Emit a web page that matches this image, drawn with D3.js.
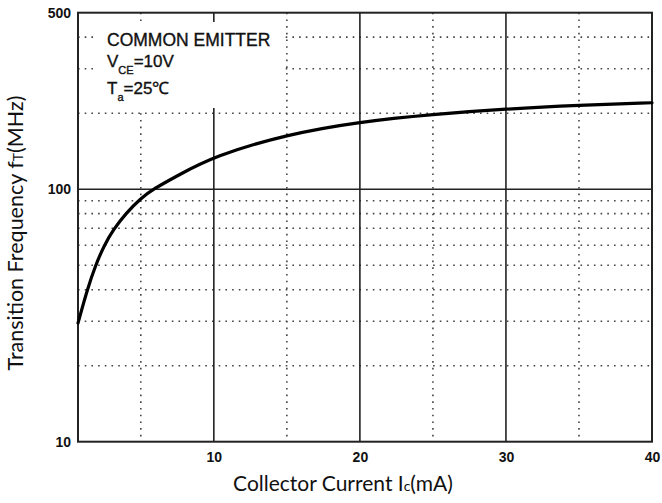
<!DOCTYPE html>
<html>
<head>
<meta charset="utf-8">
<script src="https://cdn.jsdelivr.net/npm/d3@7"></script>
<style>
  body { margin: 0; background: #fff; }
  svg { display: block; }
</style>
</head>
<body>
<div id="chart"></div>
<script>
// fT vs Ic
const currentMA = [0.7, 1.33, 1.9, 2.5, 3.1, 4.0, 5.0, 5.84, 7.5, 10, 15, 20, 25, 30, 35, 40];
const fTMHz     = [29.5, 40, 50, 60, 69, 80.5, 92, 100, 113, 135, 165, 185, 198, 208, 215, 220];

const xTicks = [10, 20, 30, 40];
const xDotted = [5, 15, 25, 35];
const xSolid = [10, 20, 30];
const yTicks = [10, 100, 500];
const yDotted = [20, 30, 40, 50, 60, 70, 80, 90, 200, 300, 400];
const ySolid = [100];

const width = 662, height = 503;
const plotL = 78, plotR = 652, plotT = 12.7, plotB = 441.7;

const svg = d3.select("#chart").append("svg")
  .attr("width", width)
  .attr("height", height);

const x = d3.scaleLinear().domain([0.7, 40]).range([plotL, plotR]);
const y = d3.scaleLog().domain([10, 500]).range([plotB, plotT]);

// grid
const grid = svg.append("g");
grid.selectAll(".vd").data(xDotted).enter().append("line")
  .attr("x1", d => x(d)).attr("x2", d => x(d))
  .attr("y1", plotT).attr("y2", plotB)
  .attr("stroke", "#444").attr("stroke-width", 1.6)
  .attr("stroke-dasharray", "1.6,5.1");
grid.selectAll(".hd").data(yDotted).enter().append("line")
  .attr("x1", plotL).attr("x2", plotR)
  .attr("y1", d => y(d)).attr("y2", d => y(d))
  .attr("stroke", "#444").attr("stroke-width", 1.6)
  .attr("stroke-dasharray", "1.6,5.1");
grid.selectAll(".vs").data(xSolid).enter().append("line")
  .attr("x1", d => x(d)).attr("x2", d => x(d))
  .attr("y1", plotT).attr("y2", plotB)
  .attr("stroke", "#222").attr("stroke-width", 1.6);
grid.selectAll(".hs").data(ySolid).enter().append("line")
  .attr("x1", plotL).attr("x2", plotR)
  .attr("y1", d => y(d)).attr("y2", d => y(d))
  .attr("stroke", "#222").attr("stroke-width", 1.4);

// label box covers the grid
svg.append("rect")
  .attr("x", 95).attr("y", 22).attr("width", 190).attr("height", 86)
  .attr("fill", "#fff");

// frame
svg.append("rect")
  .attr("x", plotL).attr("y", plotT)
  .attr("width", plotR - plotL).attr("height", plotB - plotT)
  .attr("fill", "none").attr("stroke", "#222").attr("stroke-width", 2);

// curve
const pts = currentMA.map((c, i) => [c, fTMHz[i]]);
svg.append("path")
  .datum(pts)
  .attr("fill", "none")
  .attr("stroke", "#000")
  .attr("stroke-width", 3.2)
  .attr("stroke-linecap", "round")
  .attr("d", d3.line().x(d => x(d[0])).y(d => y(d[1])).curve(d3.curveBasis));

// axes
const ax = svg.append("g")
  .attr("transform", `translate(0,${plotB})`)
  .call(d3.axisBottom(x).tickValues(xTicks).tickSize(0).tickPadding(10).tickFormat(d3.format("d")));
const ay = svg.append("g")
  .attr("transform", `translate(${plotL},0)`)
  .call(d3.axisLeft(y).tickValues(yTicks).tickSize(0).tickPadding(7).tickFormat(d3.format("d")));
[ax, ay].forEach(a => {
  a.select(".domain").remove();
  a.selectAll("text")
    .attr("font-family", "Liberation Sans, Arial, sans-serif")
    .attr("font-weight", "bold")
    .attr("font-size", 14)
    .attr("fill", "#111");
});

// annotation
const note = svg.append("g")
  .attr("font-family", "Liberation Sans, Arial, sans-serif")
  .attr("fill", "#111")
  .attr("stroke", "#111")
  .attr("stroke-width", 0.35);
note.append("text").attr("x", 107).attr("y", 46)
  .attr("font-size", 17.5).text("COMMON EMITTER");
const v = note.append("text").attr("x", 107).attr("y", 67).attr("font-size", 17);
v.append("tspan").text("V");
v.append("tspan").attr("font-size", 11).attr("dy", 7).text("CE");
v.append("tspan").attr("dy", -7).text("=10V");
const t = note.append("text").attr("x", 107).attr("y", 94).attr("font-size", 17);
t.append("tspan").text("T");
t.append("tspan").attr("font-size", 11).attr("dy", 7).text("a");
t.append("tspan").attr("dy", -7).text("=25℃");

// axis titles
const xt = svg.append("text")
  .attr("x", 343).attr("y", 491)
  .attr("text-anchor", "middle")
  .attr("font-family", "Lato, sans-serif")
  .attr("font-size", 21)
  .attr("fill", "#111");
xt.append("tspan").text("Collector Current I");
xt.append("tspan").attr("font-size", 14).text("c");
xt.append("tspan").text("(mA)");

const yt = svg.append("text")
  .attr("transform", "translate(23,233) rotate(-90)")
  .attr("text-anchor", "middle")
  .attr("font-family", "Lato, sans-serif")
  .attr("font-size", 21.5)
  .attr("fill", "#111");
yt.append("tspan").text("Transition Frequency f");
yt.append("tspan").attr("font-size", 14).text("T");
yt.append("tspan").text("(MHz)");
</script>
</body>
</html>
